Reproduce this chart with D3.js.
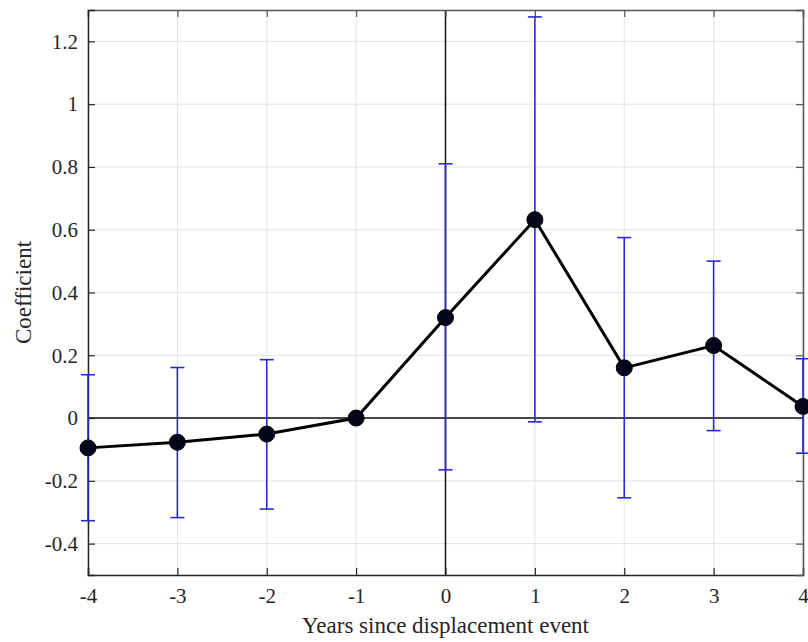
<!DOCTYPE html>
<html><head><meta charset="utf-8">
<script src="https://cdn.jsdelivr.net/npm/d3@7"></script>
<style>body{margin:0;background:#fff}</style>
</head><body><svg id="c" width="808" height="642"></svg>
<script>
const years = [-4, -3, -2, -1, 0, 1, 2, 3, 4];
const coef  = [-0.095, -0.077, -0.051, 0, 0.32, 0.632, 0.16, 0.231, 0.037];
const upper = [0.138, 0.161, 0.186, 0, 0.81, 1.278, 0.575, 0.50, 0.189];
const lower = [-0.327, -0.317, -0.29, 0, -0.165, -0.012, -0.254, -0.04, -0.112];
const xTicks = [-4, -3, -2, -1, 0, 1, 2, 3, 4];
const yTicks = [-0.4, -0.2, 0, 0.2, 0.4, 0.6, 0.8, 1, 1.2];

const svg = d3.select('#c');
const L = 88, R = 803, T = 10, B = 575;
const x = d3.scaleLinear().domain([-4, 4]).range([L, R]);
const y = d3.scaleLinear().domain([-0.5, 1.3]).range([B, T]);
const font = "'Liberation Serif','Times New Roman',serif";

// grid
svg.append('g').selectAll('line').data(xTicks).join('line')
  .attr('x1', d => x(d)).attr('x2', d => x(d)).attr('y1', T).attr('y2', B)
  .attr('stroke', '#e3e3e3').attr('stroke-width', 1);
svg.append('g').selectAll('line').data(yTicks).join('line')
  .attr('y1', d => y(d)).attr('y2', d => y(d)).attr('x1', L).attr('x2', R)
  .attr('stroke', '#e3e3e3').attr('stroke-width', 1);

// zero lines
svg.append('line').attr('x1', L).attr('x2', R).attr('y1', y(0)).attr('y2', y(0))
  .attr('stroke', '#111').attr('stroke-width', 1.5);
svg.append('line').attr('x1', x(0)).attr('x2', x(0)).attr('y1', T).attr('y2', B)
  .attr('stroke', '#111').attr('stroke-width', 1.5);

// axes
const tickSize = 7;
const fmt = d => String(+d.toFixed(1));
const gx = svg.append('g').attr('transform', `translate(0,${B})`)
  .call(d3.axisBottom(x).tickValues(xTicks).tickSize(-tickSize).tickPadding(13).tickFormat(fmt));
const gxt = svg.append('g').attr('transform', `translate(0,${T})`)
  .call(d3.axisTop(x).tickValues(xTicks).tickSize(-tickSize).tickFormat(''));
const gy = svg.append('g').attr('transform', `translate(${L},0)`)
  .call(d3.axisLeft(y).tickValues(yTicks).tickSize(-tickSize).tickPadding(10).tickFormat(fmt));
const gyr = svg.append('g').attr('transform', `translate(${R},0)`)
  .call(d3.axisRight(y).tickValues(yTicks).tickSize(-tickSize).tickFormat(''));
[gx, gy].forEach(g => { g.select('.domain').attr('stroke', '#262626').attr('stroke-width', 1.5);
  g.selectAll('.tick line').attr('stroke', '#262626').attr('stroke-width', 1.2);
  g.selectAll('text').attr('font-family', font).attr('font-size', 21).attr('fill', '#262626'); });
[gxt, gyr].forEach(g => { g.select('.domain').attr('stroke', '#555').attr('stroke-width', 1.5);
  g.selectAll('.tick line').attr('stroke', '#555').attr('stroke-width', 1.2); });

// error bars
const idx = d3.range(years.length).filter(i => upper[i] !== lower[i]);
const cap = 7;
const eb = svg.append('g').attr('stroke', '#2a2ad0').attr('stroke-width', 1.6);
eb.selectAll('.v').data(idx).join('line')
  .attr('x1', i => x(years[i])).attr('x2', i => x(years[i]))
  .attr('y1', i => y(upper[i])).attr('y2', i => y(lower[i]));
eb.selectAll('.u').data(idx).join('line')
  .attr('x1', i => x(years[i]) - cap).attr('x2', i => x(years[i]) + cap)
  .attr('y1', i => y(upper[i])).attr('y2', i => y(upper[i]));
eb.selectAll('.l').data(idx).join('line')
  .attr('x1', i => x(years[i]) - cap).attr('x2', i => x(years[i]) + cap)
  .attr('y1', i => y(lower[i])).attr('y2', i => y(lower[i]));

// line + markers
const pts = years.map((d, i) => [d, coef[i]]);
svg.append('path').datum(pts)
  .attr('d', d3.line().x(d => x(d[0])).y(d => y(d[1])))
  .attr('fill', 'none').attr('stroke', '#000').attr('stroke-width', 3);
svg.append('g').selectAll('circle').data(pts).join('circle')
  .attr('cx', d => x(d[0])).attr('cy', d => y(d[1])).attr('r', 8)
  .attr('fill', '#05051a').attr('stroke', '#000').attr('stroke-width', 1);

// labels
svg.append('text').attr('x', (L + R) / 2).attr('y', 633).attr('text-anchor', 'middle')
  .attr('font-family', font).attr('font-size', 23).attr('fill', '#262626')
  .text('Years since displacement event');
svg.append('text').attr('transform', `translate(31,${(T + B) / 2}) rotate(-90)`).attr('text-anchor', 'middle')
  .attr('font-family', font).attr('font-size', 23).attr('fill', '#262626')
  .text('Coefficient');
</script></body></html>
